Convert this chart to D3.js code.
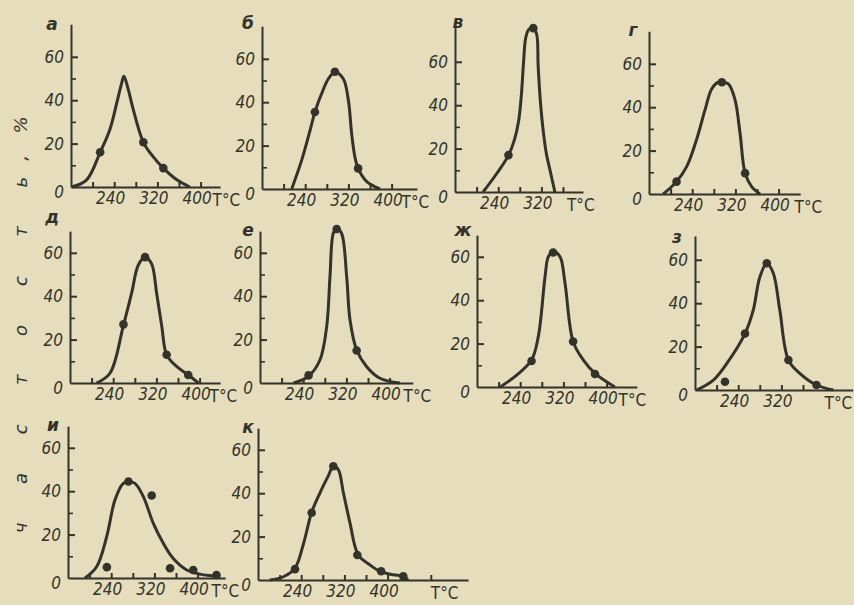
<!DOCTYPE html>
<html><head><meta charset="utf-8">
<script src="https://cdn.jsdelivr.net/npm/d3@7"></script>
<style>html,body{margin:0;padding:0;background:#e5ddbb;}svg{display:block}</style>
</head><body><svg id="c" width="854" height="605"></svg>
<script>
// ---------- data ----------
const panelLetters = ["а","б","в","г","д","е","ж","з","и","к"];
const yTickLabels = [0, 20, 40, 60];
const yMinorTicks = [10, 30, 50];
const xTickLabels = [240, 320, 400];
const xTickLabelsShort = [240, 320];
const yTitle = "частость,%";

const curve_a = [[161,0],[189,3.3],[214,16],[232,26.5],[245,39],[254,48],[258,51],[266,45],[275,36],[294,20.6],[312,14],[331,8.7],[356,3.3],[380,0]];
const points_a = [[214,16],[294,20.6],[331,8.7]];
const curve_b = [[215,0],[233.5,13.3],[249,27],[258,35.5],[270.5,44],[283,50.8],[295,53.8],[310.5,50.8],[320,40.8],[326,25.5],[332,14.8],[338,9.5],[354,3.4],[378.5,0]];
const points_b = [[258,35.5],[295,54],[338,9.5]];
const curve_v = [[212,0],[237,8.4],[259,16.9],[270,24],[278,33],[283,45],[287,60],[291,71],[297,75],[305,75.3],[311,73],[314,58],[318,42],[323,29],[329,18],[336,10],[345,0]];
const points_v = [[259,17],[305,75.5]];
const curve_g = [[186.5,0],[211,5.7],[230,12.7],[248,25],[264,39],[276,48.4],[288,51.5],[295,51.5],[307,50.7],[319,43.7],[328.5,28.2],[338,9.6],[350,3.4],[365.5,0]];
const points_g = [[211,5.7],[295,51.5],[338,9.6]];
const curve_d = [[209,0],[234,4.5],[259,26.7],[274,41.3],[286.5,54.4],[299,58],[311,55],[320.5,41.3],[330,26],[339,13],[358,7.5],[379,3.7],[398,0]];
const points_d = [[259,27],[299,58],[339,13],[379,3.7]];
const curve_e = [[222,0],[249,2.9],[271,10.6],[283.5,26],[289.6,49],[295.7,69],[302,71.3],[311,69],[320.5,49],[326.7,29],[339,15.2],[357.6,7.5],[382,2.2],[419,0]];
const points_e = [[250,3.5],[302,71],[339,15]];
const curve_zh = [[203,0],[233.5,5.5],[261,12.4],[273.5,23.2],[286,50.8],[292,60],[301,62.4],[313.7,60],[323,47.8],[338,20.9],[357,12.4],[378.5,6.3],[415.5,0]];
const points_zh = [[261,12],[301,62],[338,21],[378.5,6]];
const curve_z = [[163,0],[194,4.6],[219,12.3],[252.6,26],[268,36.9],[280,52],[293,58.4],[305,53.8],[317,36.9],[333,13.8],[354,7.7],[385,2.3],[416,0]];
const points_z = [[215.5,3.8],[252.6,26],[293,58.4],[333,13.8],[385,2.3]];
const curve_i = [[191.5,0],[213,5.2],[231.6,19],[247,36],[262.4,43.6],[271.7,44.4],[284,43.6],[299.5,37.5],[318,25.2],[336.5,16],[355,9],[380,3.7],[404,1.8],[435,0.6],[441,0]];
const points_i = [[232,5],[272,44.5],[315,38],[349,4.5],[392,3.7],[435,1.4]];
const curve_k = [[182,0],[207,1.5],[228.5,5.5],[244,16.5],[259.4,31.2],[275,40.3],[290,47.9],[299.5,52.4],[308.7,50.9],[318,40.3],[330,26.7],[345.7,11.5],[367,7],[386,4],[410.5,2.4],[429,1.7],[438,0]];
const points_k = [[228.5,5],[259.4,31],[299.5,52.4],[344,11.5],[388,4],[429,1.7]];

const curves = [curve_a,curve_b,curve_v,curve_g,curve_d,curve_e,curve_zh,curve_z,curve_i,curve_k];
const pointSets = [points_a,points_b,points_v,points_g,points_d,points_e,points_zh,points_z,points_i,points_k];

// ---------- layout ----------
const full = [200,240,280,320,360,400];
const layout = [
 {ox:71, oy:187, ymax:75, xmax:436, ticks:full, labels:xTickLabels, unitAt:400, unitDx:12, lx:-19, ly:0},
 {ox:262,oy:189, ymax:75, xmax:447, ticks:full, labels:xTickLabels, unitAt:400, unitDx:10, lx:-14, ly:-3},
 {ox:455,oy:192, ymax:77, xmax:397, ticks:[200,240,280,320,360], labels:xTickLabelsShort, unitAt:360, unitDx:4, lx:3, ly:-3},
 {ox:649,oy:194, ymax:75, xmax:440, ticks:full, labels:xTickLabels, unitAt:400, unitDx:16, lx:-16, ly:-1},
 {ox:70, oy:383, ymax:70, xmax:438, ticks:full, labels:xTickLabels, unitAt:400, unitDx:10, lx:-18, ly:-14},
 {ox:260,oy:383, ymax:70, xmax:443, ticks:full, labels:xTickLabels, unitAt:400, unitDx:14, lx:-12, ly:-1},
 {ox:477,oy:387, ymax:70, xmax:456, ticks:full, labels:xTickLabels, unitAt:400, unitDx:12, lx:-14, ly:-5},
 {ox:695,oy:390, ymax:71, xmax:452, ticks:[200,240,280,320,360], labels:xTickLabelsShort, unitAt:400, unitDx:0, lx:-18, ly:1},
 {ox:68, oy:578, ymax:70, xmax:451, ticks:full, labels:xTickLabels, unitAt:400, unitDx:14, lx:-15, ly:-1},
 {ox:258,oy:580, ymax:70, xmax:549, ticks:[200,240,280,320,360,400,480], labels:xTickLabels, unitAt:480, unitDx:0, lx:-10, ly:-1}
];
const T0 = 160, KX = 0.54, KY = 2.17;
const INK = "#33332c";
const FONT = "'DejaVu Sans Condensed','DejaVu Sans',sans-serif";

const svg = d3.select("#c");
svg.append("rect").attr("width",854).attr("height",605).attr("fill","#e5ddbb");

layout.forEach((L, i) => {
  const x = d3.scaleLinear().domain([T0, L.xmax]).range([L.ox, L.ox + (L.xmax - T0) * KX]);
  const y = d3.scaleLinear().domain([0, L.ymax]).range([L.oy, L.oy - L.ymax * KY]);
  const g = svg.append("g");

  // x axis (ticks pointing up)
  const gx = g.append("g").attr("transform", `translate(0,${L.oy})`)
    .call(d3.axisBottom(x).tickValues(L.ticks).tickSize(-5).tickSizeOuter(0).tickFormat(""));
  gx.selectAll("path,line").attr("stroke", INK).attr("stroke-width", 2);
  const gxl = g.append("g").attr("transform", `translate(0,${L.oy})`)
    .call(d3.axisBottom(x).tickValues(L.labels).tickSize(0).tickPadding(5).tickFormat(d3.format("d")));
  gxl.select(".domain").remove();
  gxl.selectAll("text").attr("dx", -4).attr("fill", INK)
    .style("font-family", FONT).style("font-style","oblique").style("font-size","17px");

  // unit label
  g.append("text").attr("x", x(L.unitAt) + L.unitDx).attr("y", L.oy + 19)
    .attr("fill", INK).style("font-family", FONT).style("font-size","17px").text("T°C");

  // y axis
  const gy = g.append("g").attr("transform", `translate(${L.ox},0)`)
    .call(d3.axisLeft(y).tickValues([20,40,60]).tickSize(-7).tickSizeOuter(0).tickFormat(""));
  gy.selectAll("path,line").attr("stroke", INK).attr("stroke-width", 2);
  const gym = g.append("g").attr("transform", `translate(${L.ox},0)`)
    .call(d3.axisLeft(y).tickValues(yMinorTicks).tickSize(-5).tickSizeOuter(0).tickFormat(""));
  gym.select(".domain").remove();
  gym.selectAll("line").attr("stroke", INK).attr("stroke-width", 1.6);
  const gyl = g.append("g").attr("transform", `translate(${L.ox},0)`)
    .call(d3.axisLeft(y).tickValues(yTickLabels).tickSize(0).tickPadding(7).tickFormat(d3.format("d")));
  gyl.select(".domain").remove();
  gyl.selectAll("text").attr("fill", INK).attr("dy", d => d === 0 ? "0.6em" : "0.32em")
    .style("font-family", FONT).style("font-style","oblique").style("font-size","17px");

  // panel letter
  g.append("text").attr("x", L.ox + L.lx).attr("y", y(L.ymax) + L.ly)
    .attr("text-anchor","middle").attr("dominant-baseline","central")
    .attr("fill", INK).style("font-family","'DejaVu Sans',sans-serif")
    .style("font-style","oblique").style("font-weight","bold").style("font-size","17px")
    .text(panelLetters[i]);

  // curve
  const line = d3.line().x(d => x(d[0])).y(d => y(d[1])).curve(d3.curveCatmullRom.alpha(0.5));
  g.append("path").datum(curves[i]).attr("d", line)
    .attr("fill","none").attr("stroke", INK).attr("stroke-width", 3).attr("stroke-linejoin","round");

  // measured points
  g.selectAll("circle.pt").data(pointSets[i]).join("circle").attr("class","pt")
    .attr("cx", d => x(d[0])).attr("cy", d => y(d[1])).attr("r", 4.3).attr("fill", INK);
});

// rotated y title, one glyph at a time
const titleChars = Array.from(yTitle);
const letterY = (idx) => idx < 8 ? 528 - idx * 49.4 : (idx === 8 ? 158 : 125);
svg.append("g").selectAll("text").data(titleChars).join("text")
  .attr("transform", (d, idx) => `translate(20,${letterY(idx)}) rotate(-90)`)
  .attr("text-anchor","middle").attr("dominant-baseline","central")
  .attr("fill", INK).style("font-family","'DejaVu Sans',sans-serif")
  .style("font-style","oblique").style("font-size","18px")
  .text(d => d);
</script></body></html>
